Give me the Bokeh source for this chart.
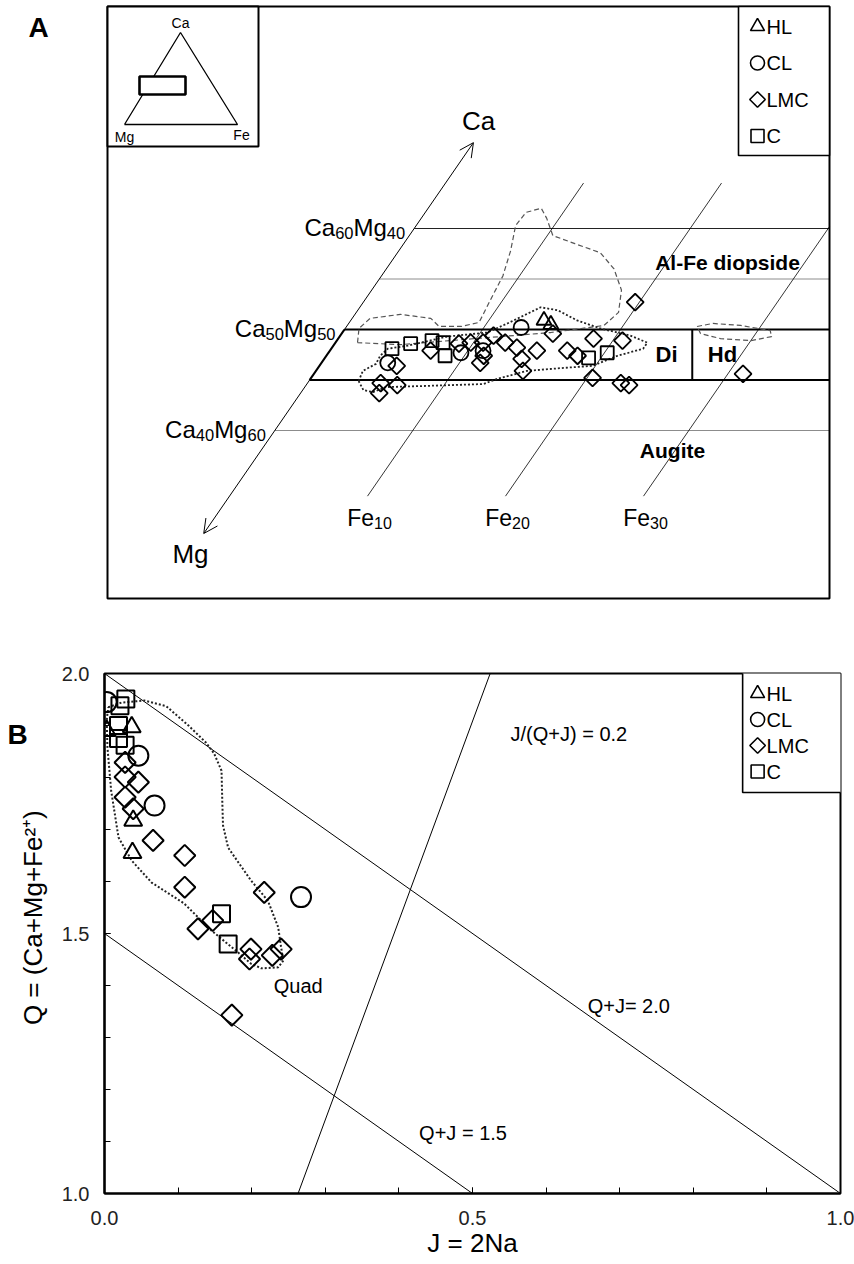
import numpy as np
from bokeh.plotting import figure
from bokeh.models import Range1d, Arrow, OpenHead, FixedTicker, PrintfTickFormatter
from bokeh.layouts import column, row
from bokeh.embed import file_html
from bokeh.resources import INLINE
from bokeh.core.properties import value

FONT = "Liberation Sans"

# ---------------- Panel A data: composition (Fe %, Ca %) ----------------
hl_a_fe = [14.0, 14.7]
hl_a_ca = [50.9, 50.5]
cl_a_fe = [4.8, 9.6, 11.1, 12.7]
cl_a_ca = [46.7, 47.7, 47.9, 50.2]
lmc_a_fe = [5.6, 7.3, 9.0, 9.8, 10.7, 11.4, 11.5, 11.1, 12.3, 13.4, 14.3, 15.0, 15.0,
            15.3, 17.2, 18.2, 18.5, 20.7, 20.4, 22.7, 23.4, 19.7, 31.1, 5.3, 5.7, 6.6]
lmc_a_ca = [46.4, 47.9, 48.6, 48.7, 48.7, 47.4, 46.7, 49.4, 48.7, 48.2, 47.1, 47.9, 45.9,
            49.6, 47.9, 47.4, 49.1, 48.9, 45.2, 44.7, 44.5, 52.7, 45.6, 44.7, 43.7, 44.5]
c_a_fe = [4.4, 5.5, 6.9, 7.8, 8.6, 19.1, 20.2]
c_a_ca = [48.1, 48.6, 48.9, 48.7, 47.4, 47.2, 47.7]

# field outlines (Fe %, Ca %)
dotted_a_fe = [3.6, 4.4, 5.2, 5.9, 8.4, 12.8, 13.5, 15.3, 17.8, 19.8, 21.1, 22.6, 22.6, 21.0,
               18.5, 16.4, 14.5, 13.1, 12.5, 11.5, 10.5, 7.8, 5.4, 4.1, 3.9, 4.0, 3.4, 3.6]
dotted_a_ca = [44.9, 44.0, 43.8, 44.3, 44.4, 44.6, 45.1, 45.9, 46.2, 46.4, 47.4, 48.1, 48.7, 49.4,
               50.1, 50.9, 51.9, 52.2, 51.6, 50.6, 49.7, 49.3, 48.4, 48.1, 47.4, 46.6, 45.9, 44.9]
dashed_a_fe = [1.6, 1.0, 1.3, 3.3, 5.7, 6.7, 8.3, 9.4, 9.1, 8.8, 8.1, 7.2, 7.3, 8.2, 9.1, 10.4,
               12.4, 14.7, 16.5, 18.1, 19.0, 18.6, 17.1, 15.1, 11.7, 8.2, 4.8, 1.6]
dashed_a_ca = [48.7, 50.1, 51.1, 51.5, 51.1, 50.3, 50.3, 50.7, 52.9, 55.3, 57.8, 60.3, 61.6, 62.0,
               61.0, 59.3, 58.5, 57.6, 56.0, 53.9, 51.7, 50.4, 50.1, 49.7, 49.3, 48.9, 48.5, 48.7]
hd_field_fe = [25.4, 26.4, 28.5, 30.9, 31.3, 30.0, 27.7, 26.0, 25.4]
hd_field_ca = [50.3, 50.6, 50.4, 49.9, 49.3, 48.9, 49.1, 49.6, 50.3]

ca_lines = [60, 55, 50, 45, 40]
fe_lines = [10, 20, 30]
fe_line_ca_range = [33.5, 64.5]
ca_axis_range = [29.8, 68.5]
di_hd_boundary_x = 25.2

# ---------------- Panel B data: J = 2Na, Q = Ca+Mg+Fe2+ ----------------
hl_b_j = [0.003, 0.037, 0.039, 0.038]
hl_b_q = [1.890, 1.897, 1.717, 1.655]
cl_b_j = [0.003, 0.046, 0.068, 0.267]
cl_b_q = [1.945, 1.842, 1.746, 1.570]
lmc_b_j = [0.028, 0.028, 0.046, 0.028, 0.039, 0.066, 0.109, 0.109, 0.217, 0.147, 0.127,
           0.199, 0.197, 0.228, 0.240, 0.173]
lmc_b_q = [1.829, 1.801, 1.791, 1.762, 1.740, 1.679, 1.650, 1.589, 1.579, 1.525, 1.509,
           1.470, 1.451, 1.458, 1.470, 1.343]
c_b_j = [0.029, 0.021, 0.019, 0.019, 0.028, 0.159, 0.168]
c_b_q = [1.951, 1.938, 1.900, 1.875, 1.862, 1.538, 1.480]

field_b_j = [0.005, 0.023, 0.054, 0.084, 0.114, 0.138, 0.149, 0.159, 0.160, 0.161, 0.168, 0.199,
             0.222, 0.236, 0.240, 0.243, 0.236, 0.213, 0.199, 0.182, 0.145, 0.108, 0.064, 0.037,
             0.019, 0.009, 0.004, 0.003, 0.005]
field_b_q = [1.935, 1.944, 1.948, 1.937, 1.900, 1.867, 1.846, 1.813, 1.756, 1.708, 1.665, 1.602,
             1.563, 1.512, 1.473, 1.448, 1.435, 1.433, 1.442, 1.463, 1.506, 1.558, 1.598, 1.640,
             1.685, 1.775, 1.858, 1.910, 1.935]

qj20_j = [0.0, 1.0]
qj20_q = [2.0, 1.0]
qj15_j = [0.0, 0.5]
qj15_q = [1.5, 1.0]
ratio_j = [0.263, 0.524]
ratio_q = [1.0, 2.0]

series = ["HL", "CL", "LMC", "C"]

# ---------------- helpers ----------------
K = 0.505          # horizontal shift of Fe iso-lines per % Ca (oblique projection)
def proj(fe, ca):
    return np.asarray(fe, dtype=float) + K * (np.asarray(ca, dtype=float) - 50.0)

# page-pixel placement helpers for decorations
def ax(px):
    return (px - 344.0) / 13.8
def ay(py):
    return 50.0 + (329.0 - py) / 10.1
def bx(px):
    return (px - 103.0) / 737.0
def by(py):
    return 2.0 - (py - 673.0) / 520.0

METRIC = {'C': .722, 'a': .556, 'M': .833, 'g': .556, 'F': .611, 'e': .556}
def twidth(s, size):
    return sum(METRIC.get(ch, 0.556) for ch in s) * size

def rich_label(p, x, y, parts, size, sub_size, align="left", dx=0.0, dy=0.0):
    widths = [twidth(t, sub_size if sub else size) for t, sub in parts]
    total = sum(widths)
    off = dx - (total if align == "right" else total / 2 if align == "center" else 0)
    for (t, sub), w in zip(parts, widths):
        p.text(x=[x], y=[y], text=[t], x_offset=off, y_offset=dy + (sub_size * 0.32 if sub else 0),
               text_font=value(FONT), text_font_size=f"{sub_size if sub else size}px",
               text_align="left", text_baseline="alphabetic", text_color="black")
        off += w

def txt(p, x, y, s, size, bold=False, align="center", baseline="middle", color="black", angle=0.0):
    p.text(x=[x], y=[y], text=[s], text_font=value(FONT), text_font_size=f"{size}px",
           text_font_style="bold" if bold else "normal", text_align=align,
           text_baseline=baseline, text_color=color, angle=angle)

MARK = {"HL": dict(marker="triangle", angle=0.0),
        "CL": dict(marker="circle", angle=0.0),
        "LMC": dict(marker="square", angle=np.pi / 4),
        "C": dict(marker="square", angle=0.0)}

def pts(p, x, y, name, size, lw):
    p.scatter(x=list(x), y=list(y), size=size, line_color="black", line_width=lw,
              fill_alpha=0.0, **MARK[name])

def bare(p):
    p.grid.visible = False
    p.outline_line_color = None
    p.background_fill_color = "white"

W_TOTAL, H_A, H_B = 854, 640, 624

# ================= Panel A (frame = whole canvas, box drawn) =================
pA = figure(width=W_TOTAL, height=H_A, x_range=Range1d(ax(0), ax(W_TOTAL)), y_range=Range1d(ay(H_A), ay(0)),
            x_axis_type=None, y_axis_type=None, output_backend="svg", toolbar_location=None,
            min_border_left=0, min_border_right=0, min_border_top=0, min_border_bottom=0)
bare(pA)
XL, XR, CT, CB = ax(107), ax(829), ay(6), ay(598)

# composition lines (Ca iso-lines)
for ca in ca_lines:
    x0 = float(proj(0, ca))
    if ca in (50, 45):
        pA.line([x0, XR], [ca, ca], line_color="black", line_width=2.2)
    elif ca == 60:
        pA.line([x0, XR], [ca, ca], line_color="#222222", line_width=1)
    else:
        pA.line([x0, XR], [ca, ca], line_color="#8c8c8c", line_width=1)
pA.line([di_hd_boundary_x, di_hd_boundary_x], [45, 50], line_color="black", line_width=2)
pA.line(list(proj([0, 0], [45, 50])), [45, 50], line_color="black", line_width=2.2)

# Fe iso-lines, clipped at the frame
for fe in fe_lines:
    top = min(fe_line_ca_range[1], 50.0 + (XR - fe) / K)
    cas = [fe_line_ca_range[0], top]
    pA.line(list(proj([fe, fe], cas)), cas, line_color="black", line_width=0.8)

# Ca-Mg axis arrow
pA.add_layout(Arrow(x_start=float(proj(0, ca_axis_range[0])), y_start=ca_axis_range[0],
                    x_end=float(proj(0, ca_axis_range[1])), y_end=ca_axis_range[1],
                    start=OpenHead(size=14, line_width=1), end=OpenHead(size=14, line_width=1),
                    line_width=1, line_color="black"))

# fields
pA.line(list(proj(dashed_a_fe, dashed_a_ca)), dashed_a_ca, line_color="#555555", line_width=1.2, line_dash="5 3")
pA.line(list(proj(hd_field_fe, hd_field_ca)), hd_field_ca, line_color="#555555", line_width=1.2, line_dash="5 3")
pA.line(list(proj(dotted_a_fe, dotted_a_ca)), dotted_a_ca, line_color="#222222", line_width=1.8, line_dash="2 2")

# data points
pts(pA, proj(c_a_fe, c_a_ca), c_a_ca, "C", 13, 1.8)
pts(pA, proj(cl_a_fe, cl_a_ca), cl_a_ca, "CL", 15, 1.8)
pts(pA, proj(lmc_a_fe, lmc_a_ca), lmc_a_ca, "LMC", 12, 1.8)
pts(pA, proj(hl_a_fe, hl_a_ca), hl_a_ca, "HL", 15, 1.8)

# labels
for ca, (a, b) in zip([60, 50, 40], [("60", "40"), ("50", "50"), ("40", "60")]):
    rich_label(pA, float(proj(0, ca)), ca, [("Ca", False), (a, True), ("Mg", False), (b, True)],
               24, 16.5, align="right", dx=-9, dy=-1)
for fe in fe_lines:
    x0 = float(proj(fe, fe_line_ca_range[0]))
    rich_label(pA, x0, fe_line_ca_range[0], [("Fe", False), (str(fe), True)], 23, 16,
               align="center", dx=2, dy=22)
txt(pA, ax(478), ay(120), "Ca", 26)
txt(pA, ax(190), ay(553), "Mg", 26)
txt(pA, ax(727), ay(262), "Al-Fe diopside", 21, bold=True)
txt(pA, ax(672), ay(450), "Augite", 21, bold=True)
txt(pA, ax(666), ay(354), "Di", 22, bold=True)
txt(pA, ax(722), ay(354), "Hd", 22, bold=True)

# outer frame
pA.quad(left=[XL], right=[XR], bottom=[CB], top=[CT], fill_alpha=0, line_color="black", line_width=2)

# inset ternary
pA.quad(left=[XL], right=[ax(258)], bottom=[ay(146)], top=[CT], fill_color="white",
        line_color="black", line_width=2)
tri_x = [ax(124), ax(180), ax(237), ax(124)]
tri_y = [ay(124), ay(32), ay(124), ay(124)]
pA.line(tri_x, tri_y, line_color="black", line_width=1.3)
pA.quad(left=[ax(139)], right=[ax(185)], bottom=[ay(94)], top=[ay(76)], fill_color="white",
        line_color="black", line_width=2.6)
txt(pA, ax(180), ay(22), "Ca", 14)
txt(pA, ax(124), ay(136), "Mg", 14)
txt(pA, ax(241), ay(134), "Fe", 14)

# legend A
pA.quad(left=[ax(738)], right=[XR], bottom=[ay(155)], top=[CT], fill_color="white",
        line_color="black", line_width=1.6)
for i, name in enumerate(series):
    yy = ay(26 + 36.5 * i)
    sz = {"HL": 14, "CL": 14, "LMC": 11, "C": 13}[name]
    pA.scatter(x=[ax(757)], y=[yy], size=sz, line_color="black", line_width=1.6, fill_alpha=0, **MARK[name])
    txt(pA, ax(766), yy, name, 20, align="left")

txt(pA, ax(38), ay(27), "A", 28, bold=True)

# ================= Panel B =================
W_BL = 58
pBL = figure(width=W_BL, height=H_B, x_range=Range1d(0, W_BL), y_range=Range1d(H_B, 0),
             x_axis_type=None, y_axis_type=None, output_backend="svg", toolbar_location=None,
             min_border_left=0, min_border_right=0, min_border_top=0, min_border_bottom=0)
bare(pBL)
txt(pBL, 17, 713 - H_A, "B", 28, bold=True)
txt(pBL, 32, 933 - H_A, "Q = (Ca+Mg+Fe²⁺)", 26, angle=np.pi / 2)

pB = figure(width=W_TOTAL - W_BL, height=H_B, x_range=Range1d(0, 1), y_range=Range1d(1, 2),
            output_backend="svg", toolbar_location=None,
            min_border_left=103 - W_BL, min_border_right=W_TOTAL - 840,
            min_border_top=673 - H_A, min_border_bottom=H_A + H_B - 1193)
pB.grid.visible = False
pB.outline_line_color = "black"
pB.outline_line_width = 2
minor = [round(0.1 * k, 1) for k in range(11)]
pB.xaxis.ticker = FixedTicker(ticks=[0.0, 0.5, 1.0], minor_ticks=minor)
pB.yaxis.ticker = FixedTicker(ticks=[1.0, 1.5, 2.0], minor_ticks=[1 + m for m in minor])
for a in (pB.xaxis[0], pB.yaxis[0]):
    a.formatter = PrintfTickFormatter(format="%.1f")
    a.axis_line_width = 2.2
    a.major_tick_in = 6
    a.major_tick_out = 0
    a.minor_tick_in = 6
    a.minor_tick_out = 0
    a.major_tick_line_width = 1
    a.minor_tick_line_width = 1
    a.major_label_text_font = FONT
    a.major_label_text_font_size = "20px"
    a.major_label_text_color = "#222222"
    a.axis_label_text_font = FONT
    a.axis_label_text_font_style = "normal"
    a.axis_label_text_font_size = "26px"
    a.axis_label_text_color = "black"
pB.xaxis.major_label_standoff = 17
pB.xaxis.axis_label_standoff = 0
pB.yaxis.major_label_standoff = 15
pB.xaxis.axis_label = "J = 2Na"

pB.line(qj20_j, qj20_q, line_color="black", line_width=1)
pB.line(qj15_j, qj15_q, line_color="black", line_width=1)
pB.line(ratio_j, ratio_q, line_color="black", line_width=1)
pB.line(field_b_j, field_b_q, line_color="#222222", line_width=2, line_dash="2 2")

pts(pB, c_b_j, c_b_q, "C", 17, 2)
pts(pB, cl_b_j, cl_b_q, "CL", 20, 2)
pts(pB, lmc_b_j, lmc_b_q, "LMC", 15, 2)
pts(pB, hl_b_j, hl_b_q, "HL", 18, 2)

txt(pB, bx(568), by(733), "J/(Q+J) = 0.2", 20)
txt(pB, bx(628), by(1005), "Q+J= 2.0", 20)
txt(pB, bx(297), by(985), "Quad", 20)
txt(pB, bx(462), by(1132), "Q+J = 1.5", 20)

pB.quad(left=[bx(742)], right=[bx(850)], bottom=[by(792)], top=[by(660)], fill_color="white",
        line_color="black", line_width=1.6)
for i, name in enumerate(series):
    yy = by(693 + 26 * i)
    sz = {"HL": 14, "CL": 14, "LMC": 11, "C": 13}[name]
    pB.scatter(x=[bx(757)], y=[yy], size=sz, line_color="black", line_width=1.6, fill_alpha=0, **MARK[name])
    txt(pB, bx(766), yy, name, 20, align="left")

layout = column(pA, row(pBL, pB, spacing=0), spacing=0)
open("out.html", "w").write(file_html(layout, INLINE))
